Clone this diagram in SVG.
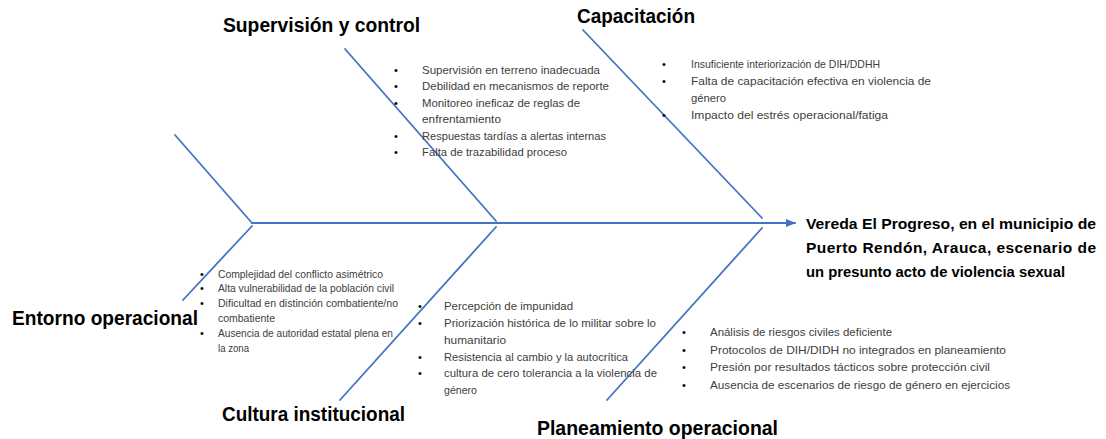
<svg xmlns="http://www.w3.org/2000/svg" width="1106" height="439" viewBox="0 0 1106 439">
<style>
.bone{stroke:#4472C4;stroke-width:1.8;fill:none;stroke-linecap:round}
.head{font-family:"Liberation Sans",Arial,sans-serif;font-weight:bold;font-size:20px;fill:#000}
.eff{font-family:"Liberation Sans",Arial,sans-serif;font-weight:bold;font-size:15.5px;fill:#000}
.it{font-family:"Liberation Sans",Arial,sans-serif;font-size:11.5px;fill:#404040}
.its{font-family:"Liberation Sans",Arial,sans-serif;font-size:10.5px;fill:#404040}
.bul{font-family:"Liberation Sans",Arial,sans-serif;font-size:11px;fill:#000}
</style>
<defs>
<marker id="arr" viewBox="0 0 10 10" refX="9" refY="5" markerWidth="10" markerHeight="10" markerUnits="userSpaceOnUse" orient="auto">
<path d="M0,1 L10,5 L0,9 z" fill="#4472C4"/>
</marker>
</defs>
<rect width="1106" height="439" fill="#fff"/>
<g id="connectors">
<line class="bone" x1="252" y1="223" x2="795" y2="223" marker-end="url(#arr)"/>
<line class="bone" x1="175" y1="135" x2="252" y2="223"/>
<line class="bone" x1="252" y1="226" x2="183" y2="300"/>
<line class="bone" x1="345" y1="49" x2="496" y2="221"/>
<line class="bone" x1="496" y1="227" x2="340" y2="400"/>
<line class="bone" x1="583" y1="30" x2="762" y2="218"/>
<line class="bone" x1="762" y1="228" x2="607" y2="400"/>
</g>
<g id="efecto">
<text class="eff" x="806" y="229" textLength="290" lengthAdjust="spacingAndGlyphs">Vereda El Progreso, en el municipio de</text>
<text class="eff" x="806" y="253" textLength="290" lengthAdjust="spacing">Puerto Rendón, Arauca, escenario de</text>
<text class="eff" x="806" y="277" textLength="259" lengthAdjust="spacingAndGlyphs">un presunto acto de violencia sexual</text>
</g>
<g id="supervision">
<text class="head" x="223" y="32" textLength="197" lengthAdjust="spacingAndGlyphs">Supervisión y control</text>
<g class="bul"><text x="394" y="74">•</text><text x="394" y="90">•</text><text x="394" y="107">•</text><text x="394" y="140">•</text><text x="394" y="156">•</text></g>
<text class="it" x="422" y="74" textLength="178" lengthAdjust="spacingAndGlyphs">Supervisión en terreno inadecuada</text>
<text class="it" x="422" y="90" textLength="187" lengthAdjust="spacingAndGlyphs">Debilidad en mecanismos de reporte</text>
<text class="it" x="422" y="107" textLength="158" lengthAdjust="spacingAndGlyphs">Monitoreo ineficaz de reglas de</text>
<text class="it" x="422" y="123" textLength="79" lengthAdjust="spacingAndGlyphs">enfrentamiento</text>
<text class="it" x="422" y="140" textLength="184" lengthAdjust="spacingAndGlyphs">Respuestas tardías a alertas internas</text>
<text class="it" x="422" y="156" textLength="145" lengthAdjust="spacingAndGlyphs">Falta de trazabilidad proceso</text>
</g>
<g id="capacitacion">
<text class="head" x="577" y="23" textLength="118" lengthAdjust="spacingAndGlyphs">Capacitación</text>
<g class="bul"><text x="662" y="68">•</text><text x="662" y="85">•</text><text x="662" y="119">•</text></g>
<text class="it" x="691" y="68" textLength="189" lengthAdjust="spacingAndGlyphs">Insuficiente interiorización de DIH/DDHH</text>
<text class="it" x="691" y="85" textLength="240" lengthAdjust="spacingAndGlyphs">Falta de capacitación efectiva en violencia de</text>
<text class="it" x="691" y="102" textLength="35" lengthAdjust="spacingAndGlyphs">género</text>
<text class="it" x="691" y="119" textLength="197" lengthAdjust="spacingAndGlyphs">Impacto del estrés operacional/fatiga</text>
</g>
<g id="entorno">
<text class="head" x="12" y="325" textLength="186" lengthAdjust="spacingAndGlyphs">Entorno operacional</text>
<g class="bul"><text x="200" y="278">•</text><text x="200" y="292">•</text><text x="200" y="307">•</text><text x="200" y="337">•</text></g>
<text class="its" x="218" y="278" textLength="165" lengthAdjust="spacingAndGlyphs">Complejidad del conflicto asimétrico</text>
<text class="its" x="218" y="292" textLength="176" lengthAdjust="spacingAndGlyphs">Alta vulnerabilidad de la población civil</text>
<text class="its" x="218" y="307" textLength="180" lengthAdjust="spacingAndGlyphs">Dificultad en distinción combatiente/no</text>
<text class="its" x="218" y="322" textLength="57" lengthAdjust="spacingAndGlyphs">combatiente</text>
<text class="its" x="218" y="337" textLength="175" lengthAdjust="spacingAndGlyphs">Ausencia de autoridad estatal plena en</text>
<text class="its" x="218" y="352" textLength="31" lengthAdjust="spacingAndGlyphs">la zona</text>
</g>
<g id="cultura">
<text class="head" x="222" y="421" textLength="183" lengthAdjust="spacingAndGlyphs">Cultura institucional</text>
<g class="bul"><text x="418" y="310">•</text><text x="418" y="327">•</text><text x="418" y="361">•</text><text x="418" y="377">•</text></g>
<text class="it" x="444" y="310" textLength="129" lengthAdjust="spacingAndGlyphs">Percepción de impunidad</text>
<text class="it" x="444" y="327" textLength="212" lengthAdjust="spacingAndGlyphs">Priorización histórica de lo militar sobre lo</text>
<text class="it" x="444" y="344" textLength="62" lengthAdjust="spacingAndGlyphs">humanitario</text>
<text class="it" x="444" y="361" textLength="184" lengthAdjust="spacingAndGlyphs">Resistencia al cambio y la autocrítica</text>
<text class="it" x="444" y="377" textLength="213" lengthAdjust="spacingAndGlyphs">cultura de cero tolerancia a la violencia de</text>
<text class="it" x="444" y="394" textLength="33" lengthAdjust="spacingAndGlyphs">género</text>
</g>
<g id="planeamiento">
<text class="head" x="537" y="435" textLength="241" lengthAdjust="spacingAndGlyphs">Planeamiento operacional</text>
<g class="bul"><text x="682" y="336">•</text><text x="682" y="354">•</text><text x="682" y="371">•</text><text x="682" y="389">•</text></g>
<text class="it" x="710" y="336" textLength="182" lengthAdjust="spacingAndGlyphs">Análisis de riesgos civiles deficiente</text>
<text class="it" x="710" y="354" textLength="296" lengthAdjust="spacingAndGlyphs">Protocolos de DIH/DIDH no integrados en planeamiento</text>
<text class="it" x="710" y="371" textLength="280" lengthAdjust="spacingAndGlyphs">Presión por resultados tácticos sobre protección civil</text>
<text class="it" x="710" y="389" textLength="300" lengthAdjust="spacingAndGlyphs">Ausencia de escenarios de riesgo de género en ejercicios</text>
</g>
</svg>
